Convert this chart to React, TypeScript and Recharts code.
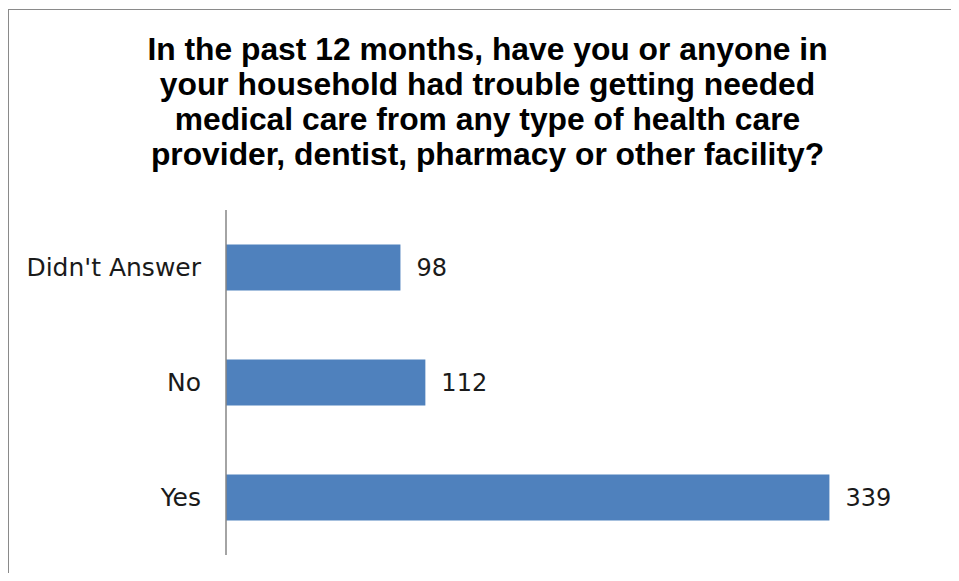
import React from 'react'
import { BarChart, Bar, XAxis, YAxis, LabelList } from 'recharts'

const categories = ["Didn't Answer", 'No', 'Yes']
const counts = [98, 112, 339]

const titleLines = [
  'In the past 12 months, have you or anyone in',
  'your household had trouble getting needed',
  'medical care from any type of health care',
  'provider, dentist, pharmacy or other facility?',
]

const data = categories.map((name, i) => ({ name, value: counts[i] }))

const labelFont = '"DejaVu Sans", sans-serif'
const frameColor = '#8a8a8a'

export default function App() {
  return (
    <div
      style={{
        position: 'relative',
        width: 943,
        height: 565,
        overflow: 'visible',
        background: '#fff',
      }}
    >
      <style>{'html,body{overflow:hidden;background:#fff}'}</style>
      {/* chart frame: only the top and left edges are inside the picture */}
      <div
        style={{
          position: 'absolute',
          left: 0,
          top: 1,
          width: 951,
          height: 1,
          background: frameColor,
        }}
      />
      <div
        style={{
          position: 'absolute',
          left: 0,
          top: 1,
          width: 1,
          height: 572,
          background: frameColor,
        }}
      />
      <div
        style={{
          position: 'absolute',
          left: 0,
          top: 24,
          width: 959,
          textAlign: 'center',
          fontFamily: '"Liberation Sans", Arial, sans-serif',
          fontWeight: 'bold',
          fontSize: 31.8,
          lineHeight: '35px',
          color: '#000',
        }}
      >
        {titleLines.map((line) => (
          <div key={line}>{line}</div>
        ))}
      </div>
      <div style={{ position: 'absolute', left: 0, top: 0 }}>
        <BarChart
          width={951}
          height={572}
          data={data}
          layout="vertical"
          barCategoryGap="30%"
          margin={{ top: 202, right: 21, bottom: 25, left: 0 }}
        >
          <XAxis type="number" domain={[0, 400]} hide />
          <YAxis
            type="category"
            dataKey="name"
            width={218}
            tickLine={false}
            tickSize={0}
            tickMargin={25}
            axisLine={{ stroke: '#868686', strokeWidth: 1.5 }}
            tick={{ fill: '#1a1a1a', fontSize: 25, fontFamily: labelFont }}
          />
          <Bar dataKey="value" fill="#4f81bd" isAnimationActive={false}>
            <LabelList
              dataKey="value"
              position="right"
              offset={16}
              fill="#1a1a1a"
              fontSize={24}
              fontFamily={labelFont}
            />
          </Bar>
        </BarChart>
      </div>
    </div>
  )
}
